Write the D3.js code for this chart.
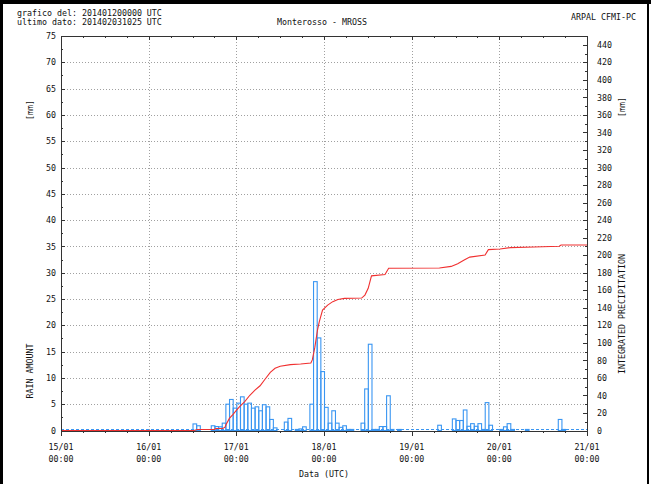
<!DOCTYPE html>
<html lang="it">
<head>
<meta charset="UTF-8">
<script src="https://cdn.jsdelivr.net/npm/d3@7"></script>
<title>Monterosso - MROSS</title>
<style>
  body { margin: 0; background: #fff; }
  svg { display: block; }
  text { font-family: "DejaVu Sans Mono", monospace; font-size: 8.3px; fill: #111; }
  .axis path, .axis line { stroke: #333; shape-rendering: crispEdges; }
  .grid line { stroke: #a0a0a0; stroke-dasharray: 1,2; shape-rendering: crispEdges; }
</style>
</head>
<body>
<div id="grafico"></div>
<script>
// ore dal 15/01 00:00 UTC e pioggia oraria [mm]
var ore = [36, 37, 41, 42, 43, 44, 45, 46, 47, 48, 49, 50, 51, 52, 53, 54, 55, 56, 57, 58,
  61, 62, 64, 65, 66, 68, 69, 70, 71, 72, 73, 74, 75, 76, 77, 78, 79, 82, 83, 84, 85, 86,
  87, 88, 89, 90, 92, 103, 107, 108, 109, 110, 111, 112, 113, 114, 115, 116, 117, 120,
  121, 122, 123, 127, 136, 137]
var pioggia = [1.25, 0.9, 0.9, 0.75, 0.7, 1.4, 5.0, 5.9, 4.25, 5.2, 6.4, 5.0, 5.2, 4.25, 4.5, 3.75, 4.9, 4.5, 2.1, 0.5,
  1.6, 2.3, 0.2, 0.3, 0.7, 5.0, 28.3, 17.6, 11.2, 4.4, 1.4, 3.75, 1.4, 0.6, 0.9, 0.2, 0.2, 1.4, 7.9, 16.4, 0.2, 0.2,
  0.75, 0.75, 6.6, 0.2, 0.2, 1.0, 2.2, 1.9, 1.9, 3.9, 0.8, 1.3, 0.8, 1.3, 0.2, 5.3, 1.0, 0.2,
  0.7, 1.3, 0.2, 0.2, 2.1, 0.2]

// precipitazione cumulata [mm] (asse destro)
var oreCum = [0, 36.4, 37.35, 42, 42.4, 44.3, 44.9, 45.2, 46.1, 47.1, 48, 48.9, 50.3, 51.7, 53.1, 54.5,
  55.9, 57.3, 58.6, 60, 62.8, 65.6, 68.4, 68.8, 69.5, 70.2, 70.7, 71.6, 73, 74.4, 75.8, 77.6, 82.3,
  83.2, 84.1, 85, 88.7, 89.7, 103.6, 106.8, 108.6, 110.5, 111.9, 116.1, 117, 120.2, 123, 129.5,
  136.4, 136.9, 144]
var cumulata = [0, 0, 1.15, 1.15, 2.3, 2.3, 3.8, 6.9, 13.8, 18.4, 23, 27.2, 33, 40.2, 46, 51,
  58.7, 66.3, 70.9, 73.2, 75.1, 75.9, 77, 80.5, 95.1, 114.3, 123.9, 137.3, 143, 147, 149.5, 150.7, 151.1,
  154.5, 162.2, 176.4, 178, 185, 185.3, 187.2, 190.3, 194.7, 197.8, 200.1, 206.3, 207, 208.6, 209.4,
  210.1, 211.6, 211.6]

var giorni = ['15/01', '16/01', '17/01', '18/01', '19/01', '20/01', '21/01']

var svg = d3.select('#grafico').append('svg')
  .attr('width', 651)
  .attr('height', 484)

var sx = 61, dx = 587, alto = 36, basso = 430.5

var xScale = d3.scaleLinear().domain([0, 144]).range([sx, dx])
var yScale = d3.scaleLinear().domain([0, 75]).range([basso, alto])
var yScaleDx = d3.scaleLinear().domain([0, 450]).range([basso, alto])

// griglia
var grid = svg.append('g').attr('class', 'grid')
grid.selectAll('.h').data(d3.range(5, 75, 5)).enter().append('line')
  .attr('x1', sx).attr('x2', dx)
  .attr('y1', d => Math.round(yScale(d)) + 0.5).attr('y2', d => Math.round(yScale(d)) + 0.5)
grid.selectAll('.v').data(d3.range(24, 144, 24)).enter().append('line')
  .attr('y1', alto).attr('y2', basso)
  .attr('x1', d => Math.round(xScale(d)) + 0.5).attr('x2', d => Math.round(xScale(d)) + 0.5)

// linea tratteggiata a zero
svg.append('line')
  .attr('x1', sx).attr('x2', dx)
  .attr('y1', yScale(0) - 1).attr('y2', yScale(0) - 1)
  .attr('stroke', '#3a96f2').attr('stroke-dasharray', '3,2')

// barre
svg.selectAll('rect.bar')
  .data(ore)
  .enter()
  .append('rect')
  .attr('class', 'bar')
  .attr('x', d => xScale(d) + 0.5)
  .attr('width', d => xScale(d + 1) - xScale(d))
  .attr('y', (d, i) => yScale(pioggia[i]))
  .attr('height', (d, i) => yScale(0) - yScale(pioggia[i]))
  .attr('fill', 'none')
  .attr('stroke', '#3a96f2')
  .attr('stroke-width', 1.1)

// cumulata
var linea = d3.line()
  .x((d, i) => xScale(oreCum[i]))
  .y(d => yScaleDx(d))
svg.append('path')
  .datum(cumulata)
  .attr('d', linea)
  .attr('fill', 'none')
  .attr('stroke', '#f03030')
  .attr('stroke-width', 1.1)

// assi
var yAxis = d3.axisLeft(yScale).tickValues(d3.range(0, 76, 5))
  .tickSize(-4).tickSizeOuter(0).tickPadding(5)
svg.append('g').attr('class', 'axis').attr('transform', 'translate(' + sx + ',0)').call(yAxis)
svg.append('g').attr('class', 'axis').attr('transform', 'translate(' + sx + ',0)')
  .call(d3.axisLeft(yScale).tickValues(d3.range(2.5, 75, 5)).tickSize(-2).tickSizeOuter(0).tickFormat(''))

var yAxisDx = d3.axisRight(yScaleDx).tickValues(d3.range(0, 441, 20))
  .tickSize(-4).tickSizeOuter(0).tickPadding(10)
svg.append('g').attr('class', 'axis').attr('transform', 'translate(' + dx + ',0)').call(yAxisDx)
svg.append('g').attr('class', 'axis').attr('transform', 'translate(' + dx + ',0)')
  .call(d3.axisRight(yScaleDx).tickValues(d3.range(10, 450, 20)).tickSize(-2).tickSizeOuter(0).tickFormat(''))

svg.append('g').attr('class', 'axis').attr('transform', 'translate(0,' + basso + ')')
  .call(d3.axisBottom(xScale).tickValues(d3.range(0, 145, 24)).tickSize(5).tickSizeOuter(0).tickFormat(''))
svg.append('g').attr('class', 'axis').attr('transform', 'translate(0,' + basso + ')')
  .call(d3.axisBottom(xScale).tickValues(d3.range(6, 144, 6).filter(d => d % 24)).tickSize(2).tickSizeOuter(0).tickFormat(''))
svg.append('g').attr('class', 'axis').attr('transform', 'translate(0,' + alto + ')')
  .call(d3.axisBottom(xScale).tickValues(d3.range(0, 145, 24)).tickSize(4).tickSizeOuter(0).tickFormat(''))
svg.append('g').attr('class', 'axis').attr('transform', 'translate(0,' + alto + ')')
  .call(d3.axisBottom(xScale).tickValues(d3.range(6, 144, 6).filter(d => d % 24)).tickSize(2).tickSizeOuter(0).tickFormat(''))

var etichette = svg.append('g')
etichette.selectAll('.g1').data(giorni).enter().append('text')
  .attr('x', (d, i) => xScale(i * 24)).attr('y', 450).attr('text-anchor', 'middle').text(d => d)
etichette.selectAll('.g2').data(giorni).enter().append('text')
  .attr('x', (d, i) => xScale(i * 24)).attr('y', 462).attr('text-anchor', 'middle').text('00:00')

// testi
svg.append('text').attr('x', 324).attr('y', 477).attr('text-anchor', 'middle').text('Data (UTC)')
svg.append('text').attr('x', 17).attr('y', 15.6).text('grafico del: 201401200000 UTC')
svg.append('text').attr('x', 17).attr('y', 24.8).text('ultimo dato: 201402031025 UTC')
svg.append('text').attr('x', 322).attr('y', 25).attr('text-anchor', 'middle').text('Monterosso - MROSS')
svg.append('text').attr('x', 636).attr('y', 19.5).attr('text-anchor', 'end').text('ARPAL CFMI-PC')

svg.append('text').attr('transform', 'translate(33,110) rotate(-90)').attr('text-anchor', 'middle').text('[mm]')
svg.append('text').attr('transform', 'translate(33,371) rotate(-90)').attr('text-anchor', 'middle').text('RAIN AMOUNT')
svg.append('text').attr('transform', 'translate(625,107) rotate(-90)').attr('text-anchor', 'middle').text('[mm]')
svg.append('text').attr('transform', 'translate(625,314) rotate(-90)').attr('text-anchor', 'middle').text('INTEGRATED PRECIPITATION')

// cornice
svg.append('rect').attr('x', 0).attr('y', 0).attr('width', 3).attr('height', 484).attr('fill', '#000')
svg.append('rect').attr('x', 0).attr('y', 0).attr('width', 651).attr('height', 4).attr('fill', '#000')
svg.append('rect').attr('x', 647).attr('y', 0).attr('width', 2).attr('height', 484).attr('fill', '#000')
</script>
</body>
</html>
